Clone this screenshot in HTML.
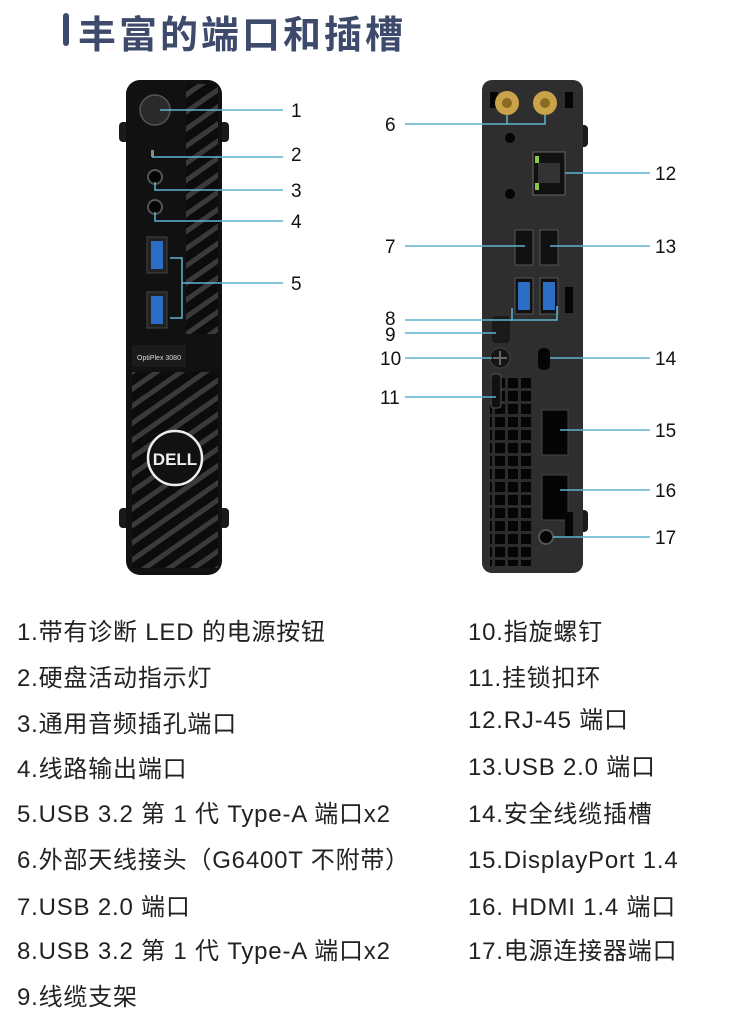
<!DOCTYPE html>
<html><head><meta charset="utf-8"><style>
body{margin:0;background:#fff;width:750px;height:1033px;overflow:hidden;position:relative;font-family:"Liberation Sans","Noto Sans CJK SC",sans-serif}
.t{position:absolute;left:62px;top:4px;font-size:38px;font-weight:bold;color:#3d4a6b;letter-spacing:3px;font-family:"Liberation Sans","Noto Sans CJK SC",sans-serif}
.bar{position:absolute;left:63px;top:13px;width:6px;height:33px;background:#3d4a6b;border-radius:3px}
.li{position:absolute;font-size:24px;letter-spacing:0.8px;color:#222;white-space:nowrap;line-height:1}
svg{position:absolute;left:0;top:0}
</style></head><body>
<div class="bar"></div>
<div class="t" style="left:78px">丰富的端口和插槽</div>
<svg width="750" height="600" viewBox="0 0 750 600">
<defs>
<pattern id="dg" width="14" height="14" patternUnits="userSpaceOnUse" patternTransform="rotate(-35)">
<rect width="14" height="14" fill="#0c0c0c"/><rect y="0" width="14" height="5" fill="#3a3a3a"/></pattern>
<pattern id="sq" width="13" height="13" patternUnits="userSpaceOnUse"><rect width="13" height="13" fill="#2c2c2d"/><rect x="1" y="1" width="10" height="10" fill="#050505"/></pattern>
</defs>
<g fill="#1a1a1a">
<rect x="119" y="122" width="10" height="20" rx="4"/><rect x="119" y="508" width="10" height="20" rx="4"/>
<rect x="219" y="122" width="10" height="20" rx="4"/><rect x="219" y="508" width="10" height="20" rx="4"/>
<rect x="578" y="125" width="10" height="22" rx="4"/><rect x="578" y="510" width="10" height="22" rx="4"/>
</g>
<rect x="126" y="80" width="96" height="495" rx="14" fill="#111"/>
<rect x="186" y="84" width="32" height="250" fill="url(#dg)"/>
<rect x="132" y="372" width="86" height="196" fill="url(#dg)"/>
<rect x="132" y="345" width="54" height="22" fill="#1b1b1b"/>
<text x="159" y="360" font-size="7" fill="#ddd" text-anchor="middle" font-family="Liberation Sans">OptiPlex 3080</text>
<circle cx="175" cy="458" r="27" fill="#111" stroke="#eee" stroke-width="2.5"/>
<text x="175" y="465" font-size="17" fill="#eee" font-weight="bold" text-anchor="middle" font-family="Liberation Sans">DELL</text>
<circle cx="155" cy="110" r="15" fill="#2a2a2a" stroke="#555" stroke-width="1.5"/>
<rect x="151" y="150" width="3" height="7" fill="#888"/>
<circle cx="155" cy="177" r="7" fill="#050505" stroke="#555" stroke-width="2"/>
<circle cx="155" cy="207" r="7" fill="#050505" stroke="#555" stroke-width="2"/>
<rect x="147" y="237" width="20" height="36" fill="#222" stroke="#444"/><rect x="151" y="241" width="12" height="28" fill="#2b6cc4"/>
<rect x="147" y="292" width="20" height="36" fill="#222" stroke="#444"/><rect x="151" y="296" width="12" height="28" fill="#2b6cc4"/>
<g stroke="#5fb3cf" stroke-width="1.5" fill="none">
<path d="M160 110H283"/><path d="M152 157H283"/><path d="M155 182V190H283"/><path d="M155 212V221H283"/>
<path d="M170 258H182V318H170M182 283H283"/>
</g>
<rect x="482" y="80" width="101" height="493" rx="10" fill="#2e2e2f"/>
<rect x="490" y="378" width="42" height="188" fill="url(#sq)"/>
<rect x="490" y="92" width="8" height="16" fill="#050505"/><rect x="565" y="92" width="8" height="16" fill="#050505"/>
<circle cx="507" cy="103" r="12" fill="#c9a24a"/><circle cx="507" cy="103" r="5" fill="#8a6a20"/>
<circle cx="545" cy="103" r="12" fill="#c9a24a"/><circle cx="545" cy="103" r="5" fill="#8a6a20"/>
<circle cx="510" cy="138" r="5" fill="#050505"/><circle cx="510" cy="194" r="5" fill="#050505"/>
<rect x="533" y="152" width="32" height="43" fill="#111" stroke="#666"/><rect x="538" y="163" width="22" height="20" fill="#333"/>
<rect x="535" y="156" width="4" height="7" fill="#8c4"/><rect x="535" y="183" width="4" height="7" fill="#8c4"/>
<rect x="515" y="230" width="18" height="35" fill="#111" stroke="#555"/><rect x="540" y="230" width="18" height="35" fill="#111" stroke="#555"/>
<rect x="515" y="278" width="18" height="36" fill="#111" stroke="#555"/><rect x="518" y="282" width="12" height="28" fill="#2b6cc4"/>
<rect x="540" y="278" width="18" height="36" fill="#111" stroke="#555"/><rect x="543" y="282" width="12" height="28" fill="#2b6cc4"/>
<rect x="565" y="287" width="8" height="26" fill="#050505"/>
<rect x="492" y="316" width="18" height="27" rx="4" fill="#1a1a1a"/>
<circle cx="500" cy="358" r="10" fill="#151515" stroke="#444"/><path d="M493 358h14M500 351v14" stroke="#666" stroke-width="2"/>
<rect x="538" y="348" width="12" height="22" rx="5" fill="#050505"/>
<rect x="491" y="374" width="10" height="34" rx="3" fill="#111" stroke="#555"/>
<rect x="542" y="410" width="26" height="45" fill="#050505" stroke="#444"/>
<rect x="542" y="475" width="26" height="45" fill="#050505" stroke="#444"/>
<rect x="565" y="512" width="8" height="25" fill="#050505"/>
<circle cx="546" cy="537" r="7" fill="#050505" stroke="#555" stroke-width="2"/>
<g stroke="#5fb3cf" stroke-width="1.5" fill="none">
<path d="M507 115V124H405M545 115V124H507"/><path d="M565 173H650"/>
<path d="M405 246H525"/><path d="M550 246H650"/>
<path d="M512 308V320H557V306"/><path d="M405 320H512"/>
<path d="M405 333H496"/><path d="M405 358H492"/><path d="M550 358H650"/>
<path d="M405 397H496"/><path d="M560 430H650"/><path d="M560 490H650"/><path d="M553 537H650"/>
</g>
<g font-family="Liberation Sans" font-size="19" fill="#111">
<text x="291" y="117">1</text><text x="291" y="161">2</text><text x="291" y="197">3</text><text x="291" y="228">4</text><text x="291" y="290">5</text>
<text x="385" y="131">6</text><text x="385" y="253">7</text><text x="385" y="325">8</text><text x="385" y="341">9</text><text x="380" y="365">10</text><text x="380" y="404">11</text>
<text x="655" y="180">12</text><text x="655" y="253">13</text><text x="655" y="365">14</text><text x="655" y="437">15</text><text x="655" y="497">16</text><text x="655" y="544">17</text>
</g>
</svg>
<div class="li" style="left:17px;top:621px">1.带有诊断 LED 的电源按钮</div>
<div class="li" style="left:17px;top:667px">2.硬盘活动指示灯</div>
<div class="li" style="left:17px;top:713px">3.通用音频插孔端口</div>
<div class="li" style="left:17px;top:758px">4.线路输出端口</div>
<div class="li" style="left:17px;top:803px">5.USB 3.2 第 1 代 Type-A 端口x2</div>
<div class="li" style="left:17px;top:849px">6.外部天线接头（G6400T 不附带）</div>
<div class="li" style="left:17px;top:896px">7.USB 2.0 端口</div>
<div class="li" style="left:17px;top:940px">8.USB 3.2 第 1 代 Type-A 端口x2</div>
<div class="li" style="left:17px;top:986px">9.线缆支架</div>
<div class="li" style="left:468px;top:621px">10.指旋螺钉</div>
<div class="li" style="left:468px;top:667px">11.挂锁扣环</div>
<div class="li" style="left:468px;top:709px">12.RJ-45 端口</div>
<div class="li" style="left:468px;top:756px">13.USB 2.0 端口</div>
<div class="li" style="left:468px;top:803px">14.安全线缆插槽</div>
<div class="li" style="left:468px;top:849px">15.DisplayPort 1.4</div>
<div class="li" style="left:468px;top:896px">16. HDMI 1.4 端口</div>
<div class="li" style="left:468px;top:940px">17.电源连接器端口</div>
</body></html>
